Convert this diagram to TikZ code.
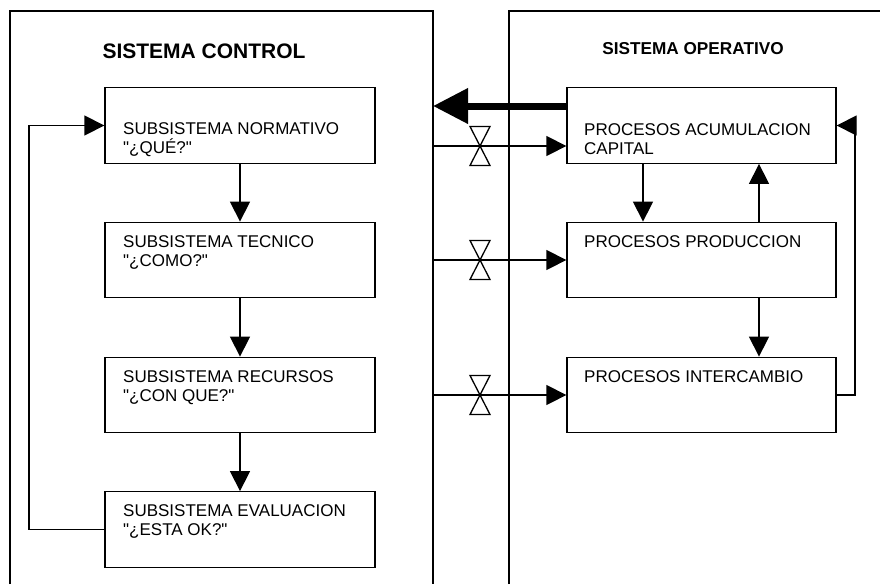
\documentclass[tikz,border=0pt]{standalone}
\usepackage{fontspec}
\setmainfont{Liberation Sans}[Ligatures=TeXOff]
\usetikzlibrary{arrows.meta}

\begin{document}
\begin{tikzpicture}[x=1pt,y=-1pt,
  frame/.style={line width=1.3pt},
  box/.style={draw, line width=1.3pt, minimum width=270pt, minimum height=75.5pt, inner sep=0pt},
  boxtext/.style={anchor=base west, align=left, inner sep=0pt, font=\fontsize{17}{19.5}\selectfont},
  flow/.style={line width=1.3pt, -{Triangle[length=20pt,width=20pt]}},
  bigflow/.style={line width=7pt, -{Triangle[length=35pt,width=34pt]}},
  valve/.pic={\draw[line width=1.3pt, fill=white]
      (0,0) -- (-10,-19.5) -- (10,-19.5) -- cycle
      (0,0) -- (-10,19.5) -- (10,19.5) -- cycle;}]
\useasboundingbox (0,0) rectangle (880,584);

% outer frames (open at the bottom)
\draw[frame] (10,584) -- (10,11) -- (433,11) -- (433,584);
\draw[frame] (509,584) -- (509,11) -- (881,11);
\coordinate (ctlR) at (433,0);
\coordinate (loopL) at (29,0);
\coordinate (loopR) at (855,0);

% titles
\node[anchor=base, inner sep=0pt, font=\bfseries\fontsize{21}{24}\selectfont] (tctl) at (204,58) {SISTEMA CONTROL};
\node[anchor=base, inner sep=0pt, font=\bfseries\fontsize{17.2}{20}\selectfont] (top) at (693,54) {SISTEMA OPERATIVO};

% control subsystems
\node[box] (L1) at (240,125.5) {};
\node[box] (L2) at (240,260) {};
\node[box] (L3) at (240,395) {};
\node[box] (L4) at (240,529.5) {};
% two-line labels: the base anchor sits on the last line
\node[boxtext] (tL1) at (123,153.5) {SUBSISTEMA NORMATIVO\\"¿QUÉ?"};
\node[boxtext] (tL2) at (123,266.5) {SUBSISTEMA TECNICO\\"¿COMO?"};
\node[boxtext] (tL3) at (123,401.5) {SUBSISTEMA RECURSOS\\"¿CON QUE?"};
\node[boxtext] (tL4) at (123,535.5) {SUBSISTEMA EVALUACION\\"¿ESTA OK?"};

% operative processes
\node[box, minimum width=269pt] (R1) at (701.5,125.5) {};
\node[box, minimum width=269pt] (R2) at (701.5,260) {};
\node[box, minimum width=269pt] (R3) at (701.5,395) {};
\node[boxtext] (tR1) at (584,154.5) {PROCESOS ACUMULACION\\CAPITAL};
\node[boxtext] (tR2) at (584,247) {PROCESOS PRODUCCION};
\node[boxtext] (tR3) at (584,382) {PROCESOS INTERCAMBIO};

% control chain
\draw[flow] (L1) -- (L2);
\draw[flow] (L2) -- (L3);
\draw[flow] (L3) -- (L4);
\draw[flow] (L4.west) -- (L4.west -| loopL) -- (L1.west -| loopL) -- (L1.west);

% operative links
\draw[flow] ([xshift=-58.5pt]R1.south) -- ([xshift=-58.5pt]R2.north);
\draw[flow] ([xshift=57.5pt]R2.north) -- ([xshift=57.5pt]R1.south);
\draw[flow] ([xshift=57.5pt]R2.south) -- ([xshift=57.5pt]R3.north);
\draw[flow] (R3.east) -- (R3.east -| loopR) -- (R1.east -| loopR) -- (R1.east);

% feedback to control
\coordinate (fb) at (567,106);
\draw[bigflow] (fb -| R1.west) -- (fb -| ctlR);

% regulated inputs
\coordinate (v1) at (480,146);
\coordinate (v2) at (480,260);
\coordinate (v3) at (480,395);
\draw[flow] (v1 -| ctlR) -- (v1 -| R1.west);
\draw[flow] (v2 -| ctlR) -- (v2 -| R2.west);
\draw[flow] (v3 -| ctlR) -- (v3 -| R3.west);
\pic at (v1) {valve};
\pic at (v2) {valve};
\pic at (v3) {valve};
\end{tikzpicture}
\end{document}
